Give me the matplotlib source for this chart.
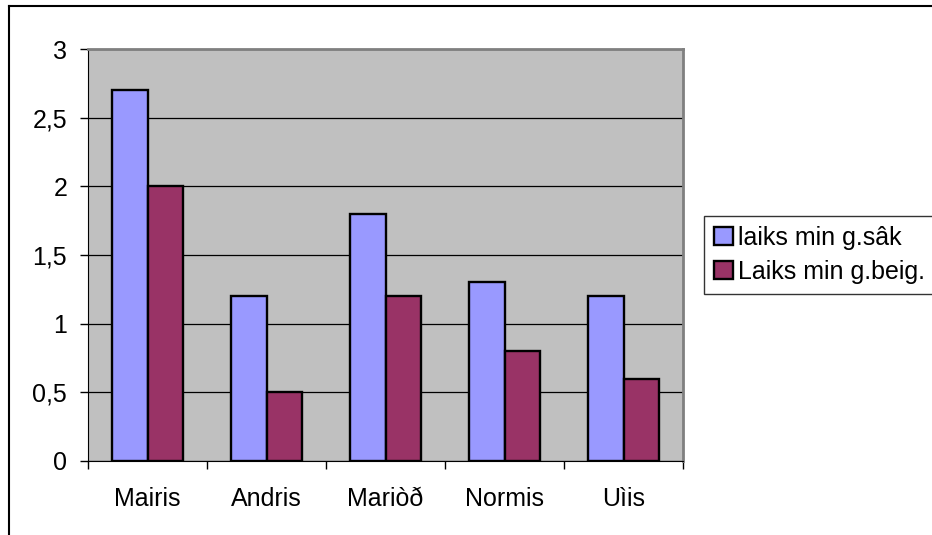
import numpy as np
import matplotlib.pyplot as plt
from matplotlib.lines import Line2D

plt.rcParams['font.family'] = ['Liberation Sans', 'DejaVu Sans']

vardi = ['Mairis', 'Andris', 'Mariòð', 'Normis', 'Uìis']
sakums = [2.7, 1.2, 1.8, 1.3, 1.2]
beigas = [2.0, 0.5, 1.2, 0.8, 0.6]
y_ticks = [0, 0.5, 1, 1.5, 2, 2.5, 3]

fig = plt.figure(figsize=(9.32, 5.35), dpi=100)
ax = fig.add_axes([88 / 932, 1 - 461 / 535, (683 - 88) / 932, (461 - 49) / 535])
ax.set_facecolor('#C0C0C0')

x = np.arange(len(vardi))
w = 0.295
ax.bar(x - w / 2, sakums, w, color='#9999FF', edgecolor='black', linewidth=1.7,
       label='laiks min g.sâk', zorder=3)
ax.bar(x + w / 2, beigas, w, color='#993366', edgecolor='black', linewidth=1.7,
       label='Laiks min g.beig.', zorder=3)

ax.set_xlim(-0.5, len(vardi) - 0.5)
ax.set_ylim(0, 3)
ax.set_yticks(y_ticks)
ax.set_yticklabels([('%g' % v).replace('.', ',') for v in y_ticks], fontsize=18)
ax.set_xticks(x)
ax.set_xticklabels(vardi, fontsize=18)
ax.tick_params(axis='x', length=0, pad=19)
ax.tick_params(axis='y', length=6, width=1, pad=9)
ax.set_xticks(np.arange(len(vardi) + 1) - 0.5, minor=True)
ax.tick_params(axis='x', which='minor', length=6, width=1)

ax.yaxis.grid(True, color='black', linewidth=0.9, zorder=1)
ax.set_axisbelow(True)
for s in ['top', 'right']:
    ax.spines[s].set_color('#808080')
    ax.spines[s].set_linewidth(2)
ax.spines['left'].set_color('black')
ax.spines['bottom'].set_color('black')

leg = fig.legend(loc='upper left', bbox_to_anchor=(704 / 932, 1 - 216 / 535),
                 fontsize=18, frameon=True, fancybox=False, edgecolor='black',
                 handlelength=0.75, handleheight=0.75, handletextpad=0.2,
                 borderpad=0.4, labelspacing=0.4, borderaxespad=0)
leg.get_frame().set_linewidth(1)

# apmale kreisaja un augseja puse
fig.add_artist(Line2D([9 / 932, 9 / 932], [0, 1 - 6 / 535], color='black', linewidth=1.5))
fig.add_artist(Line2D([9 / 932, 1], [1 - 6 / 535, 1 - 6 / 535], color='black', linewidth=1.5))

fig.savefig('out.png', dpi=100)
